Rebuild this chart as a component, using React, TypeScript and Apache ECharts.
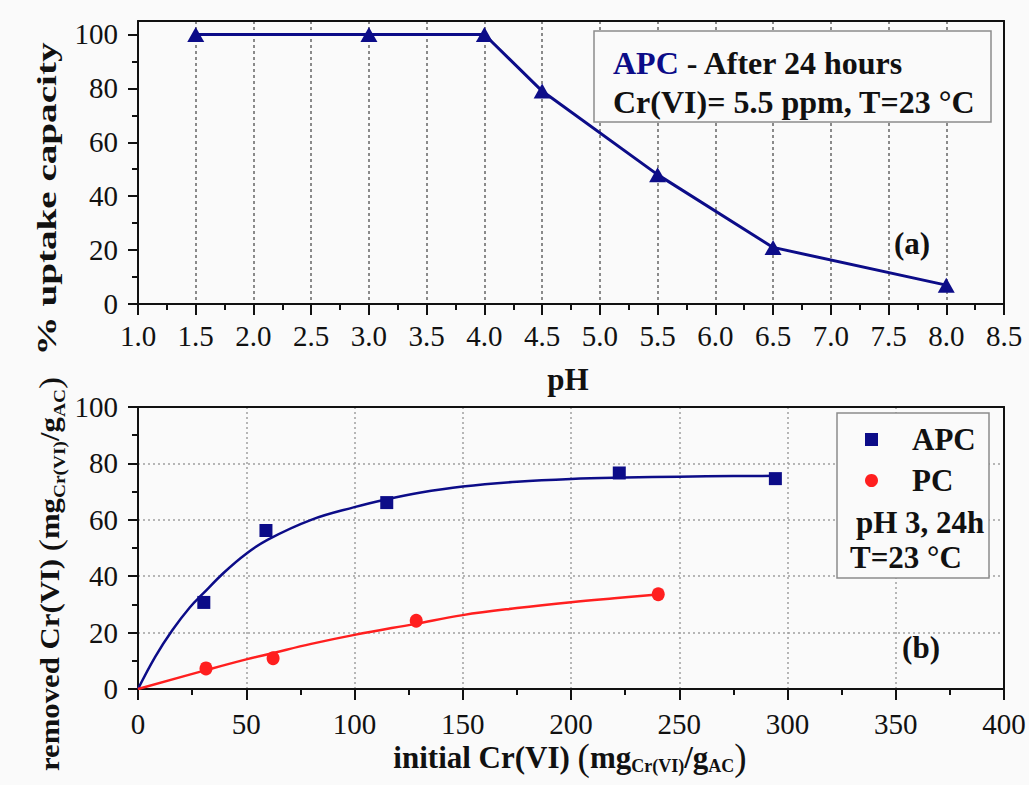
import React, { useEffect, useRef } from 'react';
import * as echarts from 'echarts';

// ---------- data ----------
const PH = [1.5, 3.0, 4.0, 4.5, 5.5, 6.5, 8.0];
const UPTAKE = [100, 100, 100, 79, 48, 21, 7];

const APC_X = [30.4, 59.1, 114.9, 222.3, 294.4];
const APC_Y = [30.7, 56.2, 66.1, 76.6, 74.6];
const PC_X = [31.4, 62.4, 128.5, 240.3];
const PC_Y = [7.3, 10.9, 24.2, 33.6];

const APC_FIT_X = [0, 8, 16, 24, 30, 40, 50, 60, 80, 100, 115, 130, 150, 175, 200, 225, 250, 275, 295];
const APC_FIT_Y = [0, 11.5, 21, 29, 33.8, 41.5, 48, 53, 60, 64.5, 67.3, 69.6, 71.8, 73.5, 74.5, 75, 75.3, 75.5, 75.6];
const PC_FIT_X = [0, 31, 50, 62, 80, 100, 128, 150, 175, 200, 220, 240];
const PC_FIT_Y = [0, 6.6, 10.5, 12.7, 16, 19.2, 23.1, 26.2, 28.7, 30.8, 32.2, 33.5];

const TOP_Y_TICKS = [0, 20, 40, 60, 80, 100];
const TOP_Y_MINOR = [10, 30, 50, 70, 90];

// ---------- styles ----------
const FONT = 'Liberation Serif';
const NAVY = '#0c0c88';
const RED = '#ff1f1f';
const INK = '#111111';
const BG = '#fafafa';

const frameLine = { show: true, onZero: false, lineStyle: { color: INK, width: 2 } };
const tickStyle = { color: INK, width: 2 };
const gridDotTop = { show: true, lineStyle: { color: '#8a8a8a', width: 2, type: [3, 3] } };
const gridDot = { show: true, lineStyle: { color: '#a0a0a0', width: 1.5, type: [2, 3] } };
const labelStyle = { fontFamily: FONT, fontSize: 29, color: INK, fontWeight: 'normal' };

const frameAxis = (gridIndex: number, position: string, min: number, max: number) => ({
  gridIndex,
  type: 'value',
  position,
  min,
  max,
  axisLine: frameLine,
  axisTick: { show: false },
  axisLabel: { show: false },
  splitLine: { show: false },
});

const bold = (size: number, color = INK) => ({
  fontFamily: FONT,
  fontSize: size,
  fontWeight: 'bold',
  fill: color,
});

const subRich = {
  m: { fontFamily: FONT, fontSize: 31, fontWeight: 'bold', fill: INK, lineHeight: 36 },
  p: { fontFamily: FONT, fontSize: 37, fontWeight: 'normal', fill: INK, lineHeight: 36 },
  s: { fontFamily: FONT, fontSize: 18, fontWeight: 'bold', fill: INK, lineHeight: 16, verticalAlign: 'bottom' },
};

export default function App() {
  const ref = useRef<HTMLDivElement>(null);

  useEffect(() => {
    if (!ref.current) return;
    const chart = echarts.init(ref.current, undefined, { renderer: 'svg' });

    const option: any = {
      animation: false,
      backgroundColor: BG,
      textStyle: { fontFamily: FONT },
      grid: [
        { left: 138, top: 21, width: 866, height: 283, outerBoundsMode: 'none' },
        { left: 138, top: 407, width: 866, height: 282, outerBoundsMode: 'none' },
      ],
      xAxis: [
        {
          gridIndex: 0,
          type: 'value',
          position: 'bottom',
          min: 1,
          max: 8.5,
          interval: 0.5,
          axisLine: frameLine,
          axisTick: { show: true, length: 11, lineStyle: tickStyle },
          minorTick: { show: true, splitNumber: 2, length: 6, lineStyle: tickStyle },
          axisLabel: { ...labelStyle, margin: 17, formatter: (v: number) => v.toFixed(1) },
          splitLine: gridDotTop,
        },
        frameAxis(0, 'top', 1, 8.5),
        {
          gridIndex: 1,
          type: 'value',
          position: 'bottom',
          min: 0,
          max: 400,
          interval: 50,
          axisLine: frameLine,
          axisTick: { show: true, length: 11, lineStyle: tickStyle },
          minorTick: { show: true, splitNumber: 2, length: 6, lineStyle: tickStyle },
          axisLabel: { ...labelStyle, margin: 20 },
          splitLine: gridDot,
        },
        frameAxis(1, 'top', 0, 400),
      ],
      yAxis: [
        {
          gridIndex: 0,
          type: 'value',
          position: 'left',
          min: 0,
          max: 105,
          interval: 20,
          axisLine: frameLine,
          axisTick: { show: true, length: 10, lineStyle: tickStyle, customValues: TOP_Y_TICKS },
          axisLabel: { ...labelStyle, margin: 20, customValues: TOP_Y_TICKS },
          splitLine: { show: false },
        },
        {
          gridIndex: 0,
          type: 'value',
          position: 'left',
          min: 0,
          max: 105,
          interval: 20,
          axisLine: { show: false },
          axisTick: { show: true, length: 6, lineStyle: tickStyle, customValues: TOP_Y_MINOR },
          axisLabel: { show: false },
          splitLine: { show: false },
        },
        frameAxis(0, 'right', 0, 105),
        {
          gridIndex: 1,
          type: 'value',
          position: 'left',
          min: 0,
          max: 100,
          interval: 20,
          axisLine: frameLine,
          axisTick: { show: true, length: 10, lineStyle: tickStyle },
          minorTick: { show: true, splitNumber: 2, length: 6, lineStyle: tickStyle },
          axisLabel: { ...labelStyle, margin: 20 },
          splitLine: gridDot,
        },
        frameAxis(1, 'right', 0, 100),
      ],
      legend: {
        data: [
          { name: 'APC', icon: 'rect' },
          { name: 'PC', icon: 'circle' },
        ],
        orient: 'vertical',
        left: 865,
        top: 424,
        padding: 0,
        itemWidth: 13,
        itemHeight: 13,
        itemGap: 10,
        selectedMode: false,
        z: 6,
        itemStyle: { opacity: 1 },
        textStyle: {
          fontFamily: FONT,
          fontSize: 31,
          fontWeight: 'bold',
          color: INK,
          lineHeight: 30,
          padding: [0, 0, 0, 29],
        },
      },
      series: [
        {
          name: 'APC pH',
          type: 'line',
          xAxisIndex: 0,
          yAxisIndex: 0,
          data: PH.map((x, i) => [x, UPTAKE[i]]),
          symbol: 'triangle',
          symbolSize: [17, 15],
          lineStyle: { color: NAVY, width: 3 },
          itemStyle: { color: NAVY, opacity: 1 },
          z: 3,
        },
        {
          name: 'APC fit',
          type: 'line',
          xAxisIndex: 2,
          yAxisIndex: 3,
          data: APC_FIT_X.map((x, i) => [x, APC_FIT_Y[i]]),
          smooth: 0.4,
          showSymbol: false,
          lineStyle: { color: NAVY, width: 2.5 },
          itemStyle: { color: NAVY },
          z: 3,
        },
        {
          name: 'PC fit',
          type: 'line',
          xAxisIndex: 2,
          yAxisIndex: 3,
          data: PC_FIT_X.map((x, i) => [x, PC_FIT_Y[i]]),
          smooth: 0.4,
          showSymbol: false,
          lineStyle: { color: RED, width: 2.5 },
          itemStyle: { color: RED },
          z: 3,
        },
        {
          name: 'APC',
          type: 'scatter',
          xAxisIndex: 2,
          yAxisIndex: 3,
          data: APC_X.map((x, i) => [x, APC_Y[i]]),
          symbol: 'rect',
          symbolSize: 13,
          itemStyle: { color: NAVY, opacity: 1 },
          z: 4,
        },
        {
          name: 'PC',
          type: 'scatter',
          xAxisIndex: 2,
          yAxisIndex: 3,
          data: PC_X.map((x, i) => [x, PC_Y[i]]),
          symbol: 'circle',
          symbolSize: [13, 14],
          itemStyle: { color: RED, opacity: 1 },
          z: 4,
        },
      ],
      graphic: [
        // top annotation box
        {
          type: 'rect',
          z: 1,
          shape: { x: 594, y: 31, width: 397, height: 91 },
          style: { fill: BG, stroke: '#8c8c8c', lineWidth: 1.5 },
        },
        {
          type: 'text',
          z: 10,
          x: 613,
          y: 63,
          style: {
            text: '{a|APC}{b| - After 24 hours}',
            align: 'left',
            verticalAlign: 'middle',
            rich: {
              a: bold(32, NAVY),
              b: bold(32),
            },
          },
        },
        {
          type: 'text',
          z: 10,
          x: 613,
          y: 102,
          style: { text: 'Cr(VI)= 5.5 ppm, T=23 °C', align: 'left', verticalAlign: 'middle', ...bold(32) },
        },
        {
          type: 'text',
          z: 10,
          x: 912,
          y: 243,
          style: { text: '(a)', align: 'center', verticalAlign: 'middle', ...bold(31) },
        },
        {
          type: 'text',
          z: 10,
          x: 921,
          y: 647,
          style: { text: '(b)', align: 'center', verticalAlign: 'middle', ...bold(31) },
        },
        // axis titles
        {
          type: 'text',
          z: 10,
          x: 568,
          y: 379,
          style: { text: 'pH', align: 'center', verticalAlign: 'middle', ...bold(31) },
        },
        {
          type: 'text',
          z: 10,
          x: 570,
          y: 757,
          style: {
            text: '{m|initial Cr(VI) }{p|(}{m|mg}{s|Cr(VI)}{m|/g}{s|AC}{p|)}',
            align: 'center',
            verticalAlign: 'middle',
            rich: subRich,
          },
        },
        {
          type: 'text',
          z: 10,
          x: 47,
          y: 199,
          rotation: Math.PI / 2,
          scaleX: 1.45,
          style: { text: '% uptake capacity', align: 'center', verticalAlign: 'middle', ...bold(27) },
        },
        {
          type: 'text',
          z: 10,
          x: 50,
          y: 574,
          rotation: Math.PI / 2,
          scaleX: 1.14,
          style: {
            text: '{m|removed Cr(VI) }{p|(}{m|mg}{s|Cr(VI)}{m|/g}{s|AC}{p|)}',
            align: 'center',
            verticalAlign: 'middle',
            rich: {
              m: { ...subRich.m, fontSize: 27 },
              p: { ...subRich.p, fontSize: 32 },
              s: { ...subRich.s, fontSize: 17 },
            },
          },
        },
        // bottom legend box and notes
        {
          type: 'rect',
          z: 1,
          shape: { x: 837, y: 413, width: 152, height: 165 },
          style: { fill: BG, stroke: '#8c8c8c', lineWidth: 1.5 },
        },
        {
          type: 'text',
          z: 10,
          x: 856,
          y: 522,
          style: { text: 'pH 3, 24h', align: 'left', verticalAlign: 'middle', ...bold(31) },
        },
        {
          type: 'text',
          z: 10,
          x: 850,
          y: 557,
          style: { text: 'T=23 °C', align: 'left', verticalAlign: 'middle', ...bold(31) },
        },
      ],
    };

    chart.setOption(option);
    return () => chart.dispose();
  }, []);

  return (
    <div
      ref={ref}
      style={{ position: 'fixed', left: 0, top: 0, width: 1029, height: 785 }}
    />
  );
}
